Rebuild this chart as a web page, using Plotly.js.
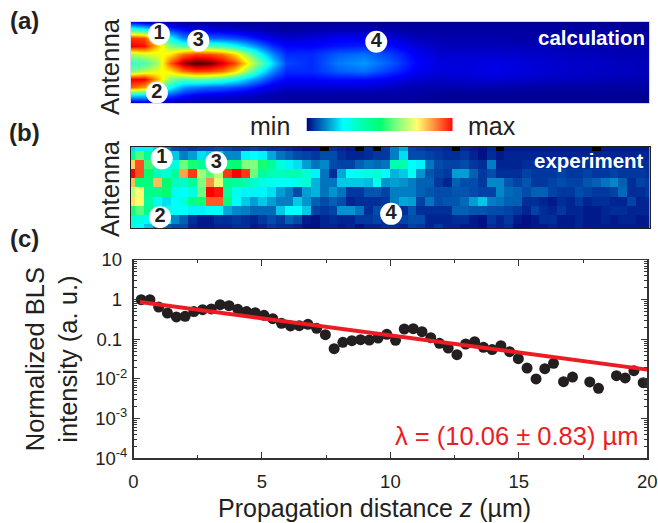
<!DOCTYPE html>
<html><head><meta charset="utf-8">
<script src="https://cdn.plot.ly/plotly-3.0.1.min.js"></script>
<style>html,body{margin:0;padding:0;background:#fff}</style></head>
<body><div id="chart" style="width:658px;height:523px"></div>
<script>
// (c) measured decay
const distance = [0.30,0.64,0.98,1.32,1.67,2.01,2.35,2.69,3.03,3.37,3.72,4.06,4.40,4.74,5.08,5.42,5.76,6.11,6.45,6.79,7.13,7.47,7.81,8.15,8.50,8.84,9.18,9.52,9.86,10.20,10.54,10.89,11.23,11.57,11.91,12.25,12.59,12.93,13.28,13.62,13.96,14.30,14.64,14.98,15.32,15.67,16.01,16.35,16.74,17.09,17.76,18.10,18.80,19.14,19.48,19.84];
const intensity = [1,1,0.653,0.461,0.366,0.38,0.5,0.56,0.582,0.748,0.706,0.57,0.5,0.47,0.403,0.332,0.253,0.217,0.221,0.239,0.189,0.131,0.0581,0.0839,0.0925,0.098,0.0962,0.108,0.134,0.0942,0.182,0.186,0.156,0.11,0.0794,0.0603,0.041,0.0762,0.0873,0.0631,0.055,0.0692,0.0489,0.0325,0.0189,0.01,0.0182,0.0248,0.00855,0.0112,0.0084,0.0058,0.0121,0.0106,0.0162,0.00807];
const fitZ = [0.25,20];
const fitI = [0.875,0.0172];

// (a) calculation: columns along z, rows across the waveguide
const calcZ = [0,0.5,1,1.5,2,2.5,3,3.5,4,4.5,5,5.5,6,7,8,9,10,11,12,13,14,16,18,20];
const calcRow = [0,1,2,3,4,5,6,7,8,9,10];
const calc0 = [.12,.08,.05,.03,.02,.02,.02,.02,.02,.02,.02,.02,.02,.02,.02,.02,.02,.02,.02,.02,.02,.02,.02,.02];
const calc1 = [.45,.4,.3,.18,.12,.1,.09,.08,.07,.06,.05,.04,.03,.04,.05,.05,.04,.03,.03,.03,.03,.03,.03,.02];
const calc2 = [.84,.82,.6,.38,.24,.22,.21,.2,.18,.15,.11,.08,.07,.08,.1,.1,.08,.05,.04,.04,.04,.03,.03,.03];
const calc3 = [.9,.88,.7,.52,.46,.48,.47,.44,.38,.3,.22,.15,.11,.11,.13,.14,.12,.08,.05,.05,.05,.05,.04,.04];
const calc4 = [.55,.6,.62,.66,.78,.83,.82,.78,.68,.52,.36,.24,.15,.15,.2,.22,.17,.1,.07,.07,.07,.06,.05,.04];
const calc5 = [.42,.45,.54,.8,.95,1,.98,.92,.82,.64,.48,.32,.18,.15,.23,.26,.2,.11,.08,.08,.09,.07,.06,.05];
const calc6 = [.5,.57,.62,.66,.78,.83,.82,.78,.68,.52,.36,.24,.15,.15,.2,.22,.16,.1,.08,.08,.09,.07,.06,.05];
const calc7 = [.9,.9,.72,.52,.46,.48,.47,.44,.38,.3,.22,.15,.11,.11,.12,.12,.1,.07,.06,.07,.07,.06,.05,.04];
const calc8 = [.8,.74,.54,.38,.26,.23,.21,.2,.18,.15,.11,.08,.07,.07,.07,.07,.06,.04,.04,.04,.04,.03,.03,.03];
const calc9 = [.34,.33,.26,.18,.13,.1,.09,.08,.07,.06,.05,.04,.03,.03,.03,.03,.03,.03,.02,.02,.02,.02,.02,.02];
const calc10 = [.05,.06,.04,.03,.02,.02,.02,.02,.02,.02,.02,.02,.02,.02,.02,.02,.02,.01,.01,.01,.01,.01,.01,.01];

// (b) experiment: 60 columns by 10 rows
const expCol = [0,1,2,3,4,5,6,7,8,9,10,11,12,13,14,15,16,17,18,19,20,21,22,23,24,25,26,27,28,29,30,31,32,33,34,35,36,37,38,39,40,41,42,43,44,45,46,47,48,49,50,51,52,53,54,55,56,57,58,59];
const expRow = [0,1,2,3,4,5,6,7,8,9];
const exp0 = [.22,.24,.24,.2,.12,.08,.07,.06,.07,.07,.08,.07,.06,.06,.07,.06,.05,.05,.04,.03,.02,.02,0,.05,.04,.03,0,.05,0,.06,.13,.17,.07,.06,.05,.05,.04,0,.04,.03,.02,.04,0,.03,.03,.03,.03,.03,.03,.03,.03,.03,.03,0,.03,.03,.03,.03,.03,.03];
const exp1 = [.42,.58,.42,.3,.3,.2,.13,.16,.22,.2,.2,.14,.14,.24,.25,.24,.17,.12,.1,.08,.07,.06,.08,.08,.05,.04,.04,.05,.06,.06,.13,.22,.08,.08,.07,.06,.05,.05,.06,.04,.02,.05,.03,.04,.04,.04,.04,.04,.04,.04,.04,.04,.04,.04,.04,.04,.04,.04,.04,.04];
const exp2 = [.8,.93,.55,.38,.3,.3,.6,.52,.42,.5,.5,.48,.5,.62,.62,.52,.42,.3,.24,.22,.16,.12,.14,.08,.07,.07,.1,.12,.11,.12,.38,.38,.25,.24,.12,.08,.07,.07,.08,.06,.05,.13,.04,.04,.04,.05,.05,.05,.05,.05,.05,.05,.05,.05,.05,.05,.05,.05,.05,.05];
const exp3 = [1,.93,.5,.36,.32,.42,.85,.95,.65,.58,.68,.95,1,.95,.6,.42,.38,.36,.38,.38,.32,.24,.12,.05,.17,.26,.28,.3,.32,.25,.18,.2,.27,.15,.09,.07,.06,.16,.16,.1,.06,.08,.05,.05,.05,.07,.06,.06,.06,.07,.06,.06,.07,.06,.06,.07,.06,.06,.06,.05];
const exp4 = [.82,.48,.48,.82,.5,.36,.34,.42,.62,.87,.72,.45,.42,.38,.34,.3,.27,.26,.26,.28,.32,.18,.12,.12,.2,.2,.2,.19,.28,.15,.16,.15,.13,.1,.1,.06,.04,.1,.08,.08,.06,.14,.14,.09,.07,.09,.06,.06,.07,.08,.07,.07,.09,.1,.12,.14,.1,.05,.07,.06];
const exp5 = [.68,.75,.45,.45,.5,.27,.25,.3,.6,1,.98,.42,.28,.24,.24,.24,.22,.16,.13,.08,.16,.18,.12,.15,.12,.06,.06,.09,.09,.07,.13,.13,.13,.1,.09,.08,.08,.09,.09,.08,.07,.07,.14,.11,.1,.08,.1,.1,.07,.06,.06,.08,.07,.06,.06,.07,.11,.05,.05,.06];
const exp6 = [.78,.75,.42,.28,.22,.26,.3,.45,.52,.92,.92,.48,.26,.2,.16,.2,.16,.13,.13,.2,.15,.1,.08,.1,.08,.04,.05,.05,.05,.06,.13,.17,.16,.07,.12,.08,.09,.09,.11,.16,.2,.13,.12,.1,.1,.05,.05,.04,.03,.05,.04,.06,.04,.05,.05,.04,.04,.07,.04,.04];
const exp7 = [.52,.58,.45,.32,.3,.26,.25,.24,.24,.25,.26,.17,.14,.13,.11,.11,.11,.2,.25,.25,.2,.07,.06,.07,.15,.15,.12,.05,.08,.07,.06,.05,.09,.05,.05,.05,.05,.1,.1,.09,.09,.08,.08,.07,.06,.04,.07,.05,.04,.06,.04,.04,.03,.03,.04,.05,.05,.04,.04,.04];
const exp8 = [.3,.3,.27,.28,.25,.14,.1,.05,.03,.03,.05,.05,.06,.05,.04,.06,.08,.06,.1,.08,.03,.02,.04,.05,.04,.04,.06,.06,.07,.05,.05,.07,.08,.08,.04,.04,.04,.05,.05,.03,.02,.06,.04,.06,.03,.02,.03,.05,.05,.03,.03,.04,.03,.03,.04,.03,.04,.04,.03,.03];
const exp9 = [.28,.25,.2,.12,.1,.08,.08,.04,.03,.03,.04,.04,.05,.05,.03,.04,.06,.05,.05,.04,.02,.02,.04,.04,.03,.04,.02,.04,.04,.05,.05,.04,.07,.06,.04,.06,.04,.04,.03,.03,.02,.05,.04,.05,.02,.02,.03,.03,.04,.03,.03,.04,.03,.03,.03,.03,.03,.03,.03,.03];

// numbered markers
const spotLabels = ['1','2','3','4'];
const calcSpotZ = [1.08,1.0,2.6,9.47];
const calcSpotRow = [1.48,8.73,2.3,2.44];
const expSpotCol = [3.5,3.3,9.7,29.6];
const expSpotRow = [1.31,7.8,1.78,7.44];

const yTicks = [10,1,0.1,0.01,0.001,0.0001];
const yTickText = ['10\u00a0','1\u00a0','0.1\u00a0','10<sup>-2</sup>','10<sup>-3</sup>','10<sup>-4</sup>'];
const xTicks = [0,5,10,15,20];
const barLevels = [.01,.06,.14,.25,.38,.5,.62,.75,.87,1];

const W=658,H=523,F='"Liberation Sans",Arial,sans-serif',INK='#231f20',RED='#ed1c24';
const dx=(a,b)=>[a/W,b/W], dy=(t,b)=>[1-b/H,1-t/H];
const px=x=>x/W, py=y=>1-y/H;

const jet=[[0,'#00007f'],[.11,'#0000ff'],[.36,'#00ffff'],[.5,'#70ff90'],[.64,'#ffff00'],[.89,'#ff0000'],[1,'#400000']];
const bar=[[0,'#000000'],[.004,'#00007a'],[.06,'#0038a0'],[.14,'#0088c8'],[.25,'#00ffff'],[.38,'#00ffb0'],[.5,'#00ff70'],[.62,'#80ff80'],[.75,'#ffff70'],[.87,'#ff9040'],[1,'#ff0000']];
const spots=(x,y,xa,ya)=>({type:'scatter',mode:'markers+text',x,y,xaxis:xa,yaxis:ya,text:spotLabels,textposition:'middle center',
  textfont:{family:F,size:20,color:INK,weight:700},marker:{size:22,color:'#fff'},hoverinfo:'skip',showlegend:false});

const traces=[
 {type:'heatmap',x:calcZ,y:calcRow,z:[calc0,calc1,calc2,calc3,calc4,calc5,calc6,calc7,calc8,calc9,calc10],zmin:0,zmax:1,colorscale:jet,zsmooth:'best',showscale:false,xaxis:'x',yaxis:'y'},
 spots(calcSpotZ,calcSpotRow,'x','y'),
 {type:'heatmap',x:expCol,y:expRow,z:[exp0,exp1,exp2,exp3,exp4,exp5,exp6,exp7,exp8,exp9],zmin:0,zmax:1,colorscale:bar,showscale:false,xaxis:'x2',yaxis:'y2'},
 spots(expSpotCol,expSpotRow,'x2','y2'),
 {type:'heatmap',x:barLevels,y:[0,1],z:[barLevels,barLevels],zmin:0,zmax:1,colorscale:bar,zsmooth:'best',showscale:false,xaxis:'x4',yaxis:'y4'},
 {type:'scatter',mode:'markers',x:distance,y:intensity,xaxis:'x3',yaxis:'y3',marker:{size:11,color:INK},showlegend:false},
 {type:'scatter',mode:'lines',x:fitZ,y:fitI,xaxis:'x3',yaxis:'y3',line:{color:RED,width:4},showlegend:false}
];
const hid={showticklabels:false,ticks:'',showgrid:false,zeroline:false};
const frame={showline:true,mirror:true,linecolor:'#d8d8e4',linewidth:1};
const dark={showline:true,mirror:true,linecolor:'#222',linewidth:1};
const ann=(text,x,y,size,o={})=>Object.assign({text,x:px(x),y:py(y),xref:'paper',yref:'paper',showarrow:false,xanchor:'center',yanchor:'middle',font:{family:F,size,color:INK}},o);
const layout={
 width:W,height:H,margin:{l:0,r:0,t:0,b:0},paper_bgcolor:'#fff',plot_bgcolor:'#fff',showlegend:false,
 font:{family:F,color:INK},
 xaxis:Object.assign({domain:dx(131,649),range:[0,20],anchor:'y'},hid,frame),
 yaxis:Object.assign({domain:dy(22,103),range:[10,0],anchor:'x'},hid,frame),
 xaxis2:Object.assign({domain:dx(131,649.5),range:[0,59],anchor:'y2'},hid,dark),
 yaxis2:Object.assign({domain:dy(146.5,228),range:[9,0],anchor:'x2'},hid,dark),
 xaxis4:Object.assign({domain:dx(306.5,453),range:[.01,1],anchor:'y4'},hid),
 yaxis4:Object.assign({domain:dy(118,131),range:[0,1],anchor:'x4'},hid),
 xaxis3:{domain:dx(133.5,647.3),range:[0,20],anchor:'y3',tickmode:'array',tickvals:xTicks,ticks:'inside',ticklen:6,tickwidth:1,tickcolor:'#333',
   minor:{dtick:2.5,ticks:'inside',ticklen:3,tickwidth:1,tickcolor:'#333'},
   showline:true,mirror:'ticks',linecolor:'#333',linewidth:1.5,showgrid:false,zeroline:false,tickfont:{family:F,size:18.5,color:INK},ticklabelstandoff:6},
 yaxis3:{domain:dy(260,458.3),type:'log',range:[-4,1],anchor:'x3',tickmode:'array',tickvals:yTicks,ticktext:yTickText,ticks:'inside',ticklen:6,tickwidth:1,tickcolor:'#333',
   minor:{dtick:'D1',ticks:'inside',ticklen:3,tickwidth:1,tickcolor:'#333'},
   showline:true,mirror:'ticks',linecolor:'#333',linewidth:1.5,showgrid:false,zeroline:false,tickfont:{family:F,size:18.5,color:INK},ticklabelstandoff:1,
   title:{text:'Normalized BLS<br>intensity (a. u.)',font:{family:F,size:25.5,color:INK},standoff:10}},
 annotations:[
  ann('<b>(a)</b>',24,21,24),ann('<b>(b)</b>',24,132,24),ann('<b>(c)</b>',24,239,24),
  ann('Antenna',110,67,25.8,{textangle:-90}),ann('Antenna',110,189,25.8,{textangle:-90}),
  ann('min',270,126,25),ann('max',492,126,25),
  ann('<b>calculation</b>',647,37,20.5,{xanchor:'right',font:{family:F,size:20.5,color:'#fff'}}),
  ann('<b>experiment</b>',646,161,20.5,{xanchor:'right',font:{family:F,size:20.5,color:'#fff'}}),
  ann('Propagation distance <i>z</i> (µm)',374,508,25),
  ann('λ = (10.06 ± 0.83) µm',640,436,25.5,{xanchor:'right',font:{family:F,size:25.5,color:RED}})
 ]
};
Plotly.newPlot('chart',traces,layout,{staticPlot:true,displayModeBar:false});
</script></body></html>
